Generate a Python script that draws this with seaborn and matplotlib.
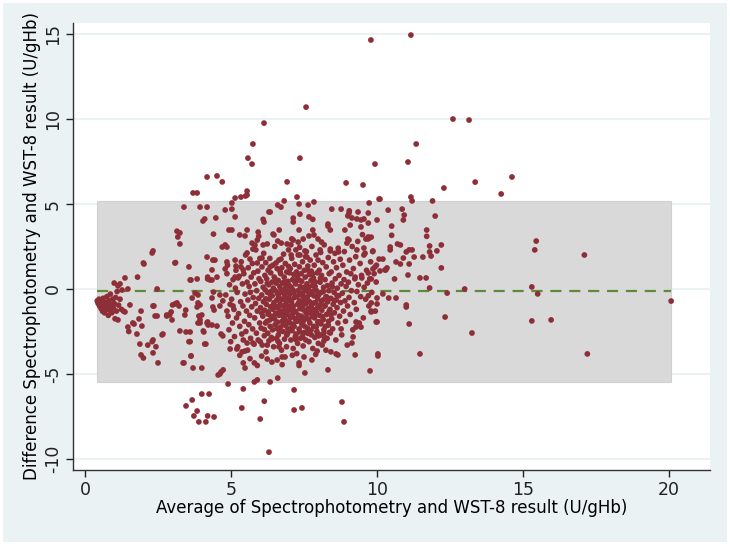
import pandas as pd
import matplotlib.pyplot as plt
import seaborn as sns
from matplotlib.patches import Rectangle

# Bland-Altman: average (x) vs difference (y)
left_pts = [
    (0.42, -0.7), (0.45, -0.85), (0.48, -0.6), (0.5, -1.0), (0.53, -0.75), (0.55, -1.15),
    (0.58, -0.9), (0.6, -1.3), (0.62, -0.55), (0.65, -1.05), (0.67, -1.4), (0.7, -0.8),
    (0.72, -1.2), (0.75, -0.45), (0.77, -1.0), (0.8, -1.55), (0.82, -0.7), (0.85, -1.25),
    (0.87, -0.3), (0.9, -0.95), (0.92, -1.4), (0.95, -0.6), (0.97, -1.1), (1.0, -0.85),
    (1.03, -1.75), (1.05, -0.5), (1.08, -1.3), (1.1, -0.15), (1.13, -1.82), (1.15, -0.95),
    (1.2, -0.6), (1.25, -1.2), (1.27, -0.06), (1.0, 0.35), (1.13, 0.18), (1.2, 0.3),
    (1.37, 0.65), (1.47, 0.0), (1.37, -1.35), (1.32, -1.3),
    (1.8, 0.7), (2.0, 1.53), (2.3, 2.12), (2.33, 2.24), (2.47, 0.0), (1.54, -0.94),
    (1.92, -1.3), (2.33, -1.0), (2.4, -1.59), (1.47, -2.24), (1.64, -2.0), (1.85, -1.76),
    (1.5, -2.5), (1.68, -2.06), (1.95, -2.18), (1.78, -2.65), (1.88, -3.24), (2.15, -3.3),
    (2.3, -3.1), (2.33, -3.0), (2.43, -3.4), (1.92, -3.88), (2.0, -4.06), (2.33, -3.76),
    (2.5, -4.35), (2.67, -2.65), (2.8, -1.53), (2.95, -1.35), (2.98, -1.82), (3.08, -0.88),
    (3.25, -2.47), (3.42, -1.53), (3.45, -1.24), (3.6, -2.53), (3.6, -3.1), (3.63, -3.94),
    (3.39, -4.35), (3.7, -4.65), (4.0, -4.65), (4.14, -3.24), (3.9, -1.59), (4.0, -1.53),
    (3.87, -2.0), (4.2, -1.94), (4.35, -2.12), (4.07, -2.53), (3.84, -1.06), (3.94, -0.94),
    (3.6, 0.53), (3.84, 0.59), (4.2, 0.7), (4.28, 0.53), (3.67, -0.53), (4.4, -0.18),
    (4.72, -0.7), (4.62, -0.35), (4.42, -1.24), (4.62, -1.0), (4.86, -1.3), (5.07, -1.0),
    (3.22, -1.0), (3.15, -0.82), (2.9, -1.53), (2.64, -2.7), (3.46, -2.53), (3.94, -1.82),
    (4.05, -2.47), (4.22, -2.12), (4.1, -3.24), (4.66, -2.65), (4.72, -2.76), (4.52, -2.18),
    (3.36, -4.35), (3.63, -3.94), (3.56, -3.1), (2.36, -1.0), (2.47, -1.59), (2.8, -1.59),
    (3.0, -0.94), (3.08, 1.53), (3.56, 1.3), (3.63, 0.53), (4.18, 1.88), (4.35, 1.12),
    (4.2, 0.59), (3.87, -0.35), (3.87, -0.82), (3.94, -2.0), (4.18, -2.0), (3.77, -0.24),
    (4.35, -0.53), (4.38, -1.06), (2.02, 1.47), (3.1, 1.55),
]

upper_pts = [
    (3.15, 3.4), (3.25, 3.3), (3.18, 3.06), (3.25, 2.65), (3.39, 4.82), (3.7, 5.65),
    (3.84, 5.65), (3.94, 4.82), (4.18, 4.82), (4.04, 4.0), (4.1, 4.12), (4.48, 4.18),
    (4.4, 3.23), (4.18, 6.59), (4.52, 6.65), (4.7, 6.3), (4.8, 4.65), (5.03, 4.7),
    (5.03, 5.06), (5.14, 5.35), (5.34, 5.41), (5.5, 5.47), (5.55, 5.76), (5.55, 5.53),
    (5.14, 4.24), (4.93, 3.47), (5.03, 3.47), (5.3, 3.18), (5.48, 3.12), (5.55, 3.47),
    (5.93, 3.35), (5.9, 2.88), (5.95, 3.1), (6.47, 3.18), (6.65, 3.47), (6.44, 3.23),
    (7.13, 2.88), (7.33, 3.47), (7.47, 2.94), (7.8, 3.47), (7.98, 2.94), (8.1, 2.76),
    (8.32, 3.7), (8.4, 3.47), (8.9, 3.47), (9.0, 2.94), (4.7, 2.47), (4.8, 2.59),
    (4.86, 2.47), (5.55, 2.12), (5.75, 2.35), (5.72, 2.7), (5.82, 2.59), (6.1, 2.59),
    (6.24, 2.65), (6.6, 2.82), (6.72, 2.7), (6.92, 2.65), (7.08, 2.95), (7.3, 2.76),
    (7.67, 3.12), (7.84, 3.18), (7.22, 2.3), (7.53, 2.24), (6.3, 4.53), (6.34, 4.53),
    (6.1, 4.1), (6.13, 3.94), (7.13, 4.17), (7.13, 3.94), (7.36, 4.4), (7.67, 4.24),
    (7.8, 4.1), (6.6, 4.94), (6.71, 4.82), (6.82, 5.18), (7.26, 5.41), (7.33, 5.0),
    (7.64, 4.94), (7.84, 5.12), (8.45, 4.7), (8.77, 4.7), (9.05, 4.6), (9.04, 4.47),
    (9.0, 4.3), (9.35, 4.53), (9.7, 4.47), (9.14, 4.18), (9.31, 4.12), (9.55, 4.12),
    (9.45, 4.06), (8.32, 3.82), (9.08, 3.76), (9.45, 3.65), (9.7, 3.88), (9.62, 2.94),
    (9.7, 3.06), (9.04, 2.88), (8.97, 2.7), (8.05, 2.3), (8.4, 2.24), (8.68, 2.18),
    (9.31, 2.3), (9.55, 2.41), (9.55, 2.0), (9.73, 5.06), (10.07, 5.29), (8.94, 6.24),
    (9.52, 6.12), (5.75, 8.53), (5.58, 7.7), (5.72, 7.35), (6.13, 9.76), (7.57, 10.7),
    (7.36, 7.7), (6.92, 6.3), (4.38, 1.7), (4.45, 1.7), (4.86, 1.59), (5.14, 1.7),
    (5.17, 1.35), (5.65, 1.76), (5.9, 1.53), (6.06, 1.82), (4.8, 1.18), (5.34, 1.3),
    (5.42, 1.12), (6.34, 1.3), (6.54, 1.53), (6.71, 1.76), (7.06, 2.0), (7.36, 2.0),
    (7.6, 1.88), (4.35, 0.53), (4.52, 0.7), (5.14, 0.7), (5.24, 0.65),
]

core_pts = [
    (4.82, -0.35), (4.86, 0.9), (4.9, -1.6), (4.93, -2.4), (4.95, 0.25), (4.97, -0.9), (4.99, -3.1), (4.88, 1.4),
    (5.02, -0.6), (5.05, -2.0), (5.07, 0.55), (5.1, -1.2), (5.12, -2.8), (5.15, 0.05), (5.17, 1.1), (5.19, -1.7),
    (5.21, -0.2), (5.23, -3.4), (5.26, -1.45), (5.28, 0.75), (5.3, -2.2), (5.33, -0.75), (5.35, 1.6), (5.37, -2.65), (5.39, 0.3),
    (5.41, -1.0), (5.42, -3.0), (5.44, 0.9), (5.46, -1.9), (5.48, -0.3), (5.5, 2.0), (5.51, -2.5), (5.53, -1.3),
    (5.55, 0.4), (5.57, -3.6), (5.58, -0.65), (5.59, 1.25),
    (5.61, -2.1), (5.62, 0.15), (5.64, -1.55), (5.66, -0.2), (5.67, -2.9), (5.69, 0.7), (5.71, -1.05), (5.73, 1.5),
    (5.74, -2.35), (5.76, -0.5), (5.78, 0.95), (5.79, -3.25),
    (5.81, -1.7), (5.82, 0.3), (5.84, -0.85), (5.85, 2.3), (5.87, -2.6), (5.88, -0.1), (5.9, -1.3), (5.92, 1.05),
    (5.93, -3.0), (5.95, -0.55), (5.96, 0.6), (5.98, -2.0), (5.99, 1.8),
    (6.01, -1.1), (6.02, 0.45), (6.03, -2.3), (6.05, -0.35), (6.06, 1.3), (6.07, -3.3), (6.09, -1.6), (6.1, 0.1),
    (6.11, -0.75), (6.12, 2.1), (6.14, -2.75), (6.15, -1.25), (6.16, 0.8), (6.17, -0.05), (6.18, -2.0), (6.19, 1.55), (6.2, -3.7),
    (6.21, -0.9), (6.22, 0.6), (6.23, -1.9), (6.25, -0.2), (6.26, -2.6), (6.27, 1.1), (6.28, -1.35), (6.29, 0.25),
    (6.3, -3.05), (6.31, -0.6), (6.33, 1.8), (6.34, -2.2), (6.35, -1.05), (6.36, 0.95), (6.37, -0.15), (6.38, -2.85),
    (6.39, -1.6), (6.4, 0.4),
    (6.41, -0.4), (6.42, -2.4), (6.43, 1.4), (6.44, -1.2), (6.45, 0.05), (6.46, -3.4), (6.47, -0.8), (6.48, 0.7),
    (6.49, -1.75), (6.5, 2.5), (6.51, -2.1), (6.52, -0.1), (6.53, -1.45), (6.55, 0.35), (6.56, -2.9), (6.57, -0.65),
    (6.58, 1.2), (6.59, -1.95), (6.6, -0.3),
    (6.61, -1.1), (6.62, 0.5), (6.62, -2.7), (6.63, -0.45), (6.64, 1.7), (6.65, -1.55), (6.66, -3.2), (6.67, 0.15),
    (6.68, -0.9), (6.69, -2.25), (6.7, 0.9), (6.71, -1.3), (6.72, -0.2), (6.73, -3.6), (6.74, 1.25), (6.75, -1.9),
    (6.76, -0.6), (6.77, 0.35), (6.78, -2.5), (6.79, -1.0), (6.8, 2.05), (6.8, -0.05),
    (6.81, -1.7), (6.82, 0.7), (6.83, -2.95), (6.84, -0.35), (6.85, -1.25), (6.86, 1.5), (6.87, -2.15), (6.88, 0.2),
    (6.89, -0.8), (6.9, -3.4), (6.91, 1.0), (6.92, -1.5), (6.93, -0.1), (6.94, -2.6), (6.95, 0.45), (6.96, -1.05),
    (6.97, 2.3), (6.98, -1.95), (6.99, -0.55), (7.0, 0.95), (6.85, -4.0), (6.95, -2.35),
    (7.01, -0.3), (7.02, -2.0), (7.03, 1.2), (7.04, -1.2), (7.05, -3.0), (7.06, 0.1), (7.07, -0.75), (7.08, 1.8),
    (7.09, -2.45), (7.1, -1.5), (7.11, 0.55), (7.12, -0.05), (7.13, -3.5), (7.14, -1.0), (7.15, 0.85), (7.16, -2.2),
    (7.17, -0.5), (7.18, 1.45), (7.19, -1.75), (7.2, -2.8), (7.05, 2.6), (7.15, -0.2),
    (7.21, 0.3), (7.22, -1.35), (7.23, -2.65), (7.24, 1.0), (7.25, -0.45), (7.26, -1.9), (7.27, 0.6), (7.28, -3.2),
    (7.29, -0.9), (7.3, 2.0), (7.31, -1.55), (7.32, -0.15), (7.33, -2.35), (7.34, 1.3), (7.35, -0.7), (7.36, -1.15),
    (7.37, 0.15), (7.38, -2.9), (7.39, -0.35), (7.4, 0.9), (7.25, -3.8), (7.35, 2.45),
    (7.41, -1.6), (7.42, 0.45), (7.43, -2.1), (7.44, -0.25), (7.45, 1.6), (7.46, -1.0), (7.47, -3.35), (7.48, 0.05),
    (7.49, -1.85), (7.5, -0.6), (7.51, 1.1), (7.52, -2.55), (7.53, -1.3), (7.54, 0.7), (7.55, -0.1), (7.56, -3.0),
    (7.57, -0.85), (7.58, 2.2), (7.59, -1.45), (7.6, 0.3), (7.45, -2.8), (7.55, 1.9),
    (7.61, -0.5), (7.62, -2.3), (7.63, 1.35), (7.64, -1.15), (7.65, 0.1), (7.66, -1.8), (7.67, -3.1), (7.68, 0.85),
    (7.69, -0.75), (7.7, -2.0), (7.71, 1.7), (7.72, -0.3), (7.73, -1.4), (7.74, 0.5), (7.75, -2.7), (7.76, -0.95),
    (7.77, 2.5), (7.78, -1.6), (7.79, 0.2), (7.8, -3.5), (7.65, -0.05), (7.75, 1.05),
    (7.81, -1.2), (7.82, 0.65), (7.83, -2.2), (7.84, -0.4), (7.85, 1.4), (7.86, -1.7), (7.87, -2.85), (7.88, 0.15),
    (7.9, -0.8), (7.91, 2.0), (7.92, -1.35), (7.93, -0.1), (7.94, -2.5), (7.95, 0.95), (7.96, -0.55), (7.97, -1.95),
    (7.98, 1.7), (7.99, -3.2),
    (8.01, -0.3), (8.02, 1.1), (8.03, -1.55), (8.04, -2.7), (8.05, 0.4), (8.06, -0.95), (8.07, 2.15), (8.08, -2.05),
    (8.09, -0.2), (8.1, 0.8), (8.11, -1.25), (8.12, -3.3), (8.14, 1.55), (8.15, -0.65), (8.16, -1.8), (8.17, 0.1),
    (8.18, -2.4), (8.19, 2.6),
    (8.21, -1.0), (8.22, 0.55), (8.23, -2.2), (8.25, -0.45), (8.26, 1.3), (8.27, -1.5), (8.29, -2.9), (8.3, 0.2),
    (8.31, -0.75), (8.33, 1.85), (8.34, -1.9), (8.35, -0.1), (8.36, 0.9), (8.37, -2.55), (8.39, -1.2), (8.4, 2.35),
    (8.42, -0.55), (8.43, 1.0), (8.45, -1.75), (8.46, 0.35), (8.48, -2.35), (8.5, -0.9), (8.51, 1.6), (8.53, -0.2),
    (8.54, -1.4), (8.56, 2.1), (8.57, 0.6), (8.59, -3.0), (8.6, -0.65),
    (8.61, 1.25), (8.63, -1.1), (8.64, 0.05), (8.66, -2.0), (8.67, 2.4), (8.69, -0.4), (8.7, 0.8), (8.72, -1.6),
    (8.74, 1.75), (8.75, -0.8), (8.77, 0.3), (8.79, -2.7),
    (8.81, -0.25), (8.83, 1.4), (8.85, -1.3), (8.87, 0.55), (8.88, 2.2), (8.9, -0.7), (8.92, -1.9), (8.94, 0.15),
    (8.96, 1.0), (8.98, -3.3), (8.99, -1.0),
    (9.02, 0.4), (9.04, -0.5), (9.06, 1.7), (9.08, -1.5), (9.1, 0.9), (9.12, -0.1), (9.15, 2.5), (9.17, -2.4), (9.19, 1.2),
    (9.22, -0.8), (9.24, 0.6), (9.27, 1.9), (9.29, -1.2), (9.31, -0.15), (9.34, 2.8), (9.36, 0.25), (9.39, -2.0),
    (9.42, 1.5), (9.44, -0.45), (9.47, 0.8), (9.5, 3.2), (9.53, -1.7), (9.56, 0.1), (9.59, 2.1),
    (9.61, -0.6), (9.64, 1.1), (9.67, 0.35), (9.7, 2.95), (9.72, -1.0), (9.75, 0.6), (9.78, 1.6),
    (9.82, -0.2), (9.85, 2.2), (9.9, 0.9), (9.94, -1.3), (9.98, 1.4),
    (5.3, -3.9), (5.65, -4.1), (6.05, -3.95), (6.4, -4.3), (6.75, -4.45), (7.1, -3.9), (7.5, -4.0),
    (7.9, -3.85), (8.25, -3.6), (5.9, -4.5),
]

# extra points filling the darkest part of the cloud
core_dense = [
    (6.73, -0.62), (7.41, -1.93), (6.95, -1.28), (7.82, -0.12), (6.58, -2.33), (7.27, 0.78),
    (8.12, -1.62), (6.36, -0.38), (7.63, -2.61), (7.08, -0.97), (6.82, 0.41), (7.97, -1.08),
    (6.47, -1.73), (7.53, 0.12), (8.28, -0.48), (6.91, -2.71), (7.19, -1.31), (7.71, -1.12),
    (6.68, 1.03), (7.36, -2.52), (8.06, 0.63), (6.27, -1.48), (7.92, -2.23), (6.99, 0.22),
    (7.48, -0.42), (6.63, -1.37), (8.36, -1.32), (7.13, -2.07), (7.79, 0.88), (6.41, -2.93),
    (7.58, -1.68), (6.87, -0.18), (8.19, -2.83), (7.31, -0.83), (6.52, 0.58), (7.86, -1.48),
    (7.03, -1.68), (8.47, 0.12), (6.79, -2.08), (7.67, -0.27), (6.19, -0.58), (7.22, -2.98),
    (8.01, -1.93), (6.97, 1.33), (7.44, -1.18), (6.33, -1.82), (7.74, -2.42), (8.22, -0.98),
    (6.71, -0.07), (7.56, -0.68), (6.05, -1.42), (7.89, 0.42), (6.61, -3.08), (7.17, 0.47),
    (8.54, -0.68), (7.38, -1.72), (6.93, -0.58), (7.96, -2.63), (6.45, -0.93), (7.62, 1.12),
    (8.33, -2.13), (7.06, -2.33), (6.24, 0.32), (7.84, -0.82), (6.86, -1.83), (7.29, -0.1),
    (8.09, -0.72), (6.55, -1.03), (7.51, -2.18), (8.42, -1.52), (7.12, -1.23), (6.66, -2.48),
    (7.99, -0.38), (7.34, 0.52), (6.14, -2.38), (7.69, -1.33), (8.63, -0.38), (6.77, -1.48),
    (7.43, -0.88), (8.16, -0.15),
]

right_pts = [
    (9.79, 14.65), (11.16, 14.94), (12.6, 10.0), (13.15, 9.94), (11.34, 8.53), (9.93, 7.35),
    (11.06, 7.47), (13.36, 6.29), (14.62, 6.59), (12.29, 5.94), (14.25, 5.59), (11.16, 5.41),
    (11.2, 5.18), (11.9, 5.18), (10.1, 5.29), (10.38, 4.64), (10.86, 4.7), (10.93, 4.35),
    (10.9, 4.06), (11.99, 4.29), (10.0, 4.06), (10.5, 3.7), (11.7, 3.47), (11.7, 3.1),
    (10.5, 3.16), (9.72, 3.0), (9.8, 3.05), (15.45, 2.82), (15.4, 2.3), (17.1, 2.0),
    (12.2, 2.59), (11.8, 2.53), (10.45, 2.47), (10.45, 2.3), (10.7, 2.65), (10.8, 2.59),
    (11.0, 2.18), (11.1, 2.3), (11.2, 2.3), (9.86, 2.24), (11.8, 2.18), (11.85, 1.94),
    (12.05, 2.24), (11.27, 1.88), (11.57, 1.88), (10.9, 1.82), (10.07, 1.76), (10.2, 1.76),
    (10.65, 1.59), (10.8, 1.47), (11.1, 1.47), (12.2, 1.24), (9.86, 1.18), (10.1, 1.06),
    (10.3, 1.12), (10.34, 1.24), (11.06, 0.82), (11.47, 0.65), (11.68, 0.65), (10.6, 0.59),
    (9.8, 0.59), (9.97, 0.41), (11.8, 0.06), (13.0, 0.0), (15.3, 0.12), (15.5, -0.29),
    (12.4, -0.24), (20.07, -0.71), (9.7, -0.4), (10.0, -0.53), (10.4, -0.53), (10.65, -0.53),
    (10.2, -0.29), (9.8, -0.82), (10.0, -0.88), (11.0, -0.94), (11.0, -1.06), (9.8, -1.3),
    (12.33, -1.65), (10.0, -1.94), (11.1, -2.06), (15.3, -1.88), (15.96, -1.82), (13.25, -2.59),
    (10.03, -3.82), (10.03, -3.94), (11.47, -3.82), (17.2, -3.82), (9.76, -4.82), (9.48, 0.65),
    (9.25, 0.7), (9.7, 0.94), (9.93, 1.3), (10.27, 1.12),
]

lower_pts = [
    (4.0, -6.18), (4.25, -6.18), (3.67, -6.53), (3.46, -6.88), (3.84, -7.18), (3.73, -7.47),
    (3.9, -7.82), (4.14, -7.82), (4.2, -7.47), (4.42, -7.53), (4.9, -5.59), (4.56, -5.06),
    (4.66, -4.88), (4.73, -4.76), (4.62, -5.0), (5.42, -5.88), (5.37, -7.0), (5.9, -5.35),
    (5.8, -5.47), (6.14, -6.6), (6.0, -7.65), (6.3, -9.6), (6.34, -5.47), (6.6, -5.24),
    (7.16, -5.94), (7.16, -7.12), (7.43, -7.0), (8.8, -6.65), (8.87, -7.82), (7.53, -4.94),
    (7.33, -4.35), (7.33, -4.5), (7.77, -4.18), (8.32, -4.76), (5.42, -4.35), (5.48, -4.65),
    (5.8, -4.35), (6.24, -4.12), (6.58, -4.18), (6.75, -4.0), (4.97, -3.53), (5.2, -3.53),
    (5.38, -3.7), (5.48, -3.65), (5.55, -3.18), (5.75, -3.18), (6.0, -3.1), (6.24, -3.3),
    (6.64, -3.4), (7.95, -3.65), (9.25, -3.88), (8.42, -3.7), (8.6, -3.82), (8.66, -3.88),
    (9.14, -3.18), (9.18, -2.82), (8.18, -3.06), (8.18, -2.59), (8.4, -2.59), (8.77, -2.35),
    (9.28, -2.24), (9.45, -2.24), (9.97, -1.94), (9.28, -1.94), (9.8, -1.35), (8.0, -2.76),
]

mean_diff = -0.12
upper_loa = 5.2
lower_loa = -5.47
loa_x = (0.41, 20.07)

x_ticks = [0, 5, 10, 15, 20]
y_ticks = [-10, -5, 0, 5, 10, 15]
x_label = "Average of Spectrophotometry and WST-8 result (U/gHb)"
y_label = "Difference Spectrophotometry and WST-8 result (U/gHb)"

pts = left_pts + upper_pts + core_pts + core_dense + right_pts + lower_pts
df = pd.DataFrame(pts, columns=["avg", "diff"])

bg = "#EAF2F3"
fig = plt.figure(figsize=(7.3, 5.46), dpi=100, facecolor="white")
fig.patches.append(Rectangle((3 / 730, 4 / 546), 724 / 730, 539 / 546,
                             transform=fig.transFigure, facecolor=bg, edgecolor="none", zorder=-10))
ax = fig.add_axes([73 / 730, 1 - 470 / 546, 637 / 730, 447 / 546])
ax.set_facecolor("white")

# grid first, then the limits-of-agreement box on top of it
for yt in y_ticks:
    ax.axhline(yt, color=bg, lw=1.5, zorder=0)
ax.add_patch(Rectangle((loa_x[0], lower_loa), loa_x[1] - loa_x[0], upper_loa - lower_loa,
                       facecolor="#D9D9D9", edgecolor="#D0D0D0", lw=0.8, zorder=1))
ax.plot(loa_x, [mean_diff, mean_diff], color="#5E8A3A", lw=1.6, ls=(0, (5, 3.5)), zorder=2)

sns.scatterplot(data=df, x="avg", y="diff", ax=ax, color="#8E2E37", s=17,
                edgecolor="none", linewidth=0, zorder=3)

ax.set_xlim(-0.41, 21.4)
ax.set_ylim(-10.65, 15.65)
ax.set_xticks(x_ticks)
ax.set_yticks(y_ticks)
ax.set_yticklabels([str(v) for v in y_ticks], rotation=90, va="center")
ax.tick_params(axis="both", labelsize=12.5, colors="#222222", length=5, width=1, pad=3)
ax.set_xlabel(x_label, fontsize=12, labelpad=0)
ax.set_ylabel(y_label, fontsize=12, labelpad=2)

for side in ["top", "right"]:
    ax.spines[side].set_visible(False)
for side in ["left", "bottom"]:
    ax.spines[side].set_color("#333333")
    ax.spines[side].set_linewidth(1)

fig.savefig("out.png", dpi=100, facecolor=fig.get_facecolor())
